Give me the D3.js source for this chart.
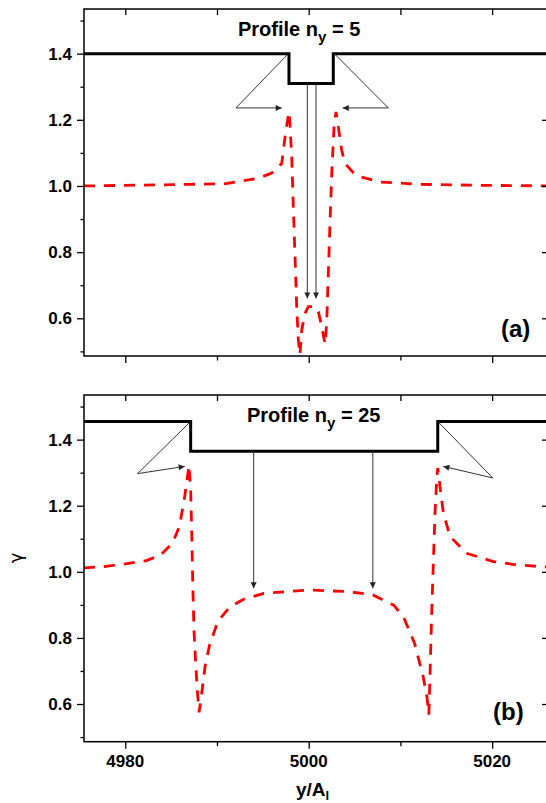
<!DOCTYPE html>
<html>
<head>
<meta charset="utf-8">
<script src="https://cdn.jsdelivr.net/npm/d3@7"></script>
<style>
  body { margin: 0; background: #fff; }
  text { font-family: Arial, "Liberation Sans", sans-serif; }
</style>
</head>
<body>
<div id="chart"></div>
<script>
// tick values
var xMajor = [4980, 5000, 5020];
var xMinor = [4990, 5010];
var yMajor = [0.6, 0.8, 1.0, 1.2, 1.4];
var yMinor = [0.5, 0.7, 0.9, 1.1, 1.3, 1.5];

// panel (a): n_y = 5
var profA_x = [4970, 4997.85, 4997.85, 5002.68, 5002.68, 5032];
var profA_y = [1.4, 1.4, 1.31, 1.31, 1.4, 1.4];
var gamA_x = [4975.5, 4980, 4985.3, 4991.0, 4994.45, 4995.97, 4997.06, 4997.23, 4997.52, 4997.84,
  4997.93, 4998.15, 4998.32, 4998.51, 4998.69, 4998.87, 4999.05, 4999.24, 4999.6, 4999.96,
  5000.69, 5001.05, 5001.42, 5001.78, 5001.96, 5002.14, 5002.32, 5002.51, 5002.76, 5002.98,
  5003.23, 5003.6, 5003.96, 5005.0, 5005.6, 5007.78, 5012.1, 5018.7, 5027];
var gamA_y = [1.0, 1.002, 1.004, 1.007, 1.023, 1.039, 1.068, 1.108, 1.168, 1.224,
  1.199, 1.088, 0.937, 0.786, 0.635, 0.534, 0.49, 0.565, 0.615, 0.635,
  0.635, 0.620, 0.575, 0.522, 0.585, 0.736, 0.887, 1.038, 1.178, 1.224,
  1.178, 1.108, 1.068, 1.036, 1.028, 1.012, 1.005, 1.002, 1.0];

// panel (b): n_y = 25
var profB_x = [4970, 4987.13, 4987.13, 5014.07, 5014.07, 5032];
var profB_y = [1.455, 1.455, 1.365, 1.365, 1.455, 1.455];
var gamB_x = [4975.5, 4977.73, 4980.0, 4982.29, 4983.82, 4985.15, 4985.9, 4986.48, 4986.95, 4987.13,
  4987.24, 4987.35, 4987.49, 4987.68, 4987.85, 4988.05, 4988.33, 4988.69, 4989.2, 4990.1,
  4991.4, 4992.9, 4995.1, 5000, 5004.33, 5007.0, 5009.27, 5010.33, 5011.55, 5012.5,
  5012.9, 5013.1, 5013.23, 5013.41, 5013.59, 5013.77, 5013.96, 5014.07, 5014.32, 5014.68,
  5015.41, 5017.23, 5020.13, 5022.68, 5025.2, 5027];
var gamB_y = [1.012, 1.016, 1.024, 1.034, 1.05, 1.087, 1.137, 1.228, 1.322, 1.248,
  1.127, 0.975, 0.823, 0.722, 0.641, 0.575, 0.631, 0.712, 0.78, 0.85,
  0.894, 0.917, 0.935, 0.945, 0.940, 0.930, 0.899, 0.864, 0.783, 0.68,
  0.62, 0.568, 0.692, 0.874, 1.026, 1.178, 1.279, 1.314, 1.258, 1.178,
  1.107, 1.056, 1.031, 1.021, 1.016, 1.014];

// annotation lines, [x1, y1, x2, y2, arrow?]
var annA = [
  [4997.78, 1.4, 4992.07, 1.236, 0], [4992.07, 1.236, 4997.06, 1.236, 1],
  [5002.79, 1.4, 5008.68, 1.236, 0], [5008.68, 1.236, 5003.71, 1.236, 1],
  [4999.85, 1.31, 4999.85, 0.66, 1], [5000.8, 1.31, 5000.8, 0.66, 1]
];
var annB = [
  [4987.13, 1.455, 4981.34, 1.297, 0], [4981.34, 1.297, 4986.48, 1.319, 1],
  [5014.07, 1.455, 5020.07, 1.284, 0], [5020.07, 1.284, 5014.68, 1.319, 1],
  [4994.0, 1.365, 4994.0, 0.95, 1], [5006.99, 1.365, 5006.99, 0.95, 1]
];

var W = 546, H = 803;
var svg = d3.select("#chart").append("svg")
    .attr("width", W)
    .attr("height", H);

svg.append("defs").append("marker")
    .attr("id", "arr")
    .attr("markerUnits", "userSpaceOnUse")
    .attr("viewBox", "0 0 10 10")
    .attr("refX", 10).attr("refY", 5)
    .attr("markerWidth", 7).attr("markerHeight", 6)
    .attr("orient", "auto")
  .append("path")
    .attr("d", "M0,0L10,5L0,10z")
    .attr("fill", "#222");

var x = d3.scaleLinear().domain([4975.5, 5026.2]).range([84, 549]);

function panel(top, bottom, profX, profY, gamX, gamY, ann, id) {
  var y = d3.scaleLinear().domain([0.486, 1.535]).range([bottom, top]);
  var g = svg.append("g");

  g.append("clipPath").attr("id", "clip" + id)
    .append("rect").attr("x", 84).attr("y", top).attr("width", 549 - 84).attr("height", bottom - top);

  var line = d3.line().x(function(d) { return x(d[0]); }).y(function(d) { return y(d[1]); });

  var plot = g.append("g").attr("clip-path", "url(#clip" + id + ")");

  plot.append("path")
      .datum(gamX.map(function(v, i) { return [v, gamY[i]]; }))
      .attr("d", line)
      .attr("fill", "none")
      .attr("stroke", "#ff0000")
      .attr("stroke-width", 2.8)
      .attr("stroke-dasharray", "11,9");

  plot.append("path")
      .datum(profX.map(function(v, i) { return [v, profY[i]]; }))
      .attr("d", line)
      .attr("fill", "none")
      .attr("stroke", "#000")
      .attr("stroke-width", 3);

  plot.selectAll(".ann")
      .data(ann)
    .enter().append("line")
      .attr("x1", function(d) { return x(d[0]); })
      .attr("y1", function(d) { return y(d[1]); })
      .attr("x2", function(d) { return x(d[2]); })
      .attr("y2", function(d) { return y(d[3]); })
      .attr("stroke", "#333")
      .attr("stroke-width", 1)
      .attr("marker-end", function(d) { return d[4] ? "url(#arr)" : null; });

  // axes
  g.append("g").attr("transform", "translate(0," + bottom + ")")
      .call(d3.axisBottom(x).tickValues(xMajor).tickSize(7).tickFormat(""));
  g.append("g").attr("transform", "translate(0," + bottom + ")")
      .call(d3.axisBottom(x).tickValues(xMinor).tickSize(4.5).tickFormat(""));
  g.append("g").attr("transform", "translate(0," + top + ")")
      .call(d3.axisBottom(x).tickValues(xMajor.concat(xMinor)).tickSize(6).tickFormat(""));
  g.append("g").attr("transform", "translate(84,0)")
      .call(d3.axisLeft(y).tickValues(yMajor).tickSize(7).tickPadding(5).tickFormat(d3.format(".1f")));
  g.append("g").attr("transform", "translate(84,0)")
      .call(d3.axisLeft(y).tickValues(yMinor).tickSize(3.5).tickFormat(""));
  g.append("g").attr("transform", "translate(549,0)")
      .call(d3.axisLeft(y).tickValues(yMajor).tickSize(7).tickFormat(""));

  g.selectAll(".domain").remove();
  g.selectAll(".tick line").attr("stroke", "#000").attr("stroke-width", 1.3);
  g.selectAll(".tick text")
      .attr("fill", "#000")
      .style("font-size", "17px")
      .style("font-weight", "bold");

  g.append("rect")
      .attr("x", 84).attr("y", top)
      .attr("width", 549 - 84).attr("height", bottom - top)
      .attr("fill", "none")
      .attr("stroke", "#000")
      .attr("stroke-width", 1.5);

  return g;
}

var ga = panel(9, 356, profA_x, profA_y, gamA_x, gamA_y, annA, "a");
var gb = panel(395, 741.7, profB_x, profB_y, gamB_x, gamB_y, annB, "b");

// x tick labels (bottom panel only)
gb.selectAll(".xl")
    .data(xMajor)
  .enter().append("text")
    .attr("x", function(d) { return x(d); })
    .attr("y", 767)
    .attr("text-anchor", "middle")
    .style("font-size", "17px")
    .style("font-weight", "bold")
    .text(function(d) { return d; });

function profLabel(g, px, py, num) {
  var t = g.append("text")
      .attr("x", px).attr("y", py)
      .style("font-size", "20px")
      .style("font-weight", "bold");
  t.append("tspan").text("Profile n");
  t.append("tspan").attr("dy", 6).style("font-size", "15px").text("y");
  t.append("tspan").attr("dy", -6).text(" = " + num);
}
profLabel(ga, 238, 36, 5);
profLabel(gb, 247, 421.5, 25);

ga.append("text").attr("x", 501).attr("y", 337)
    .style("font-size", "24px").style("font-weight", "bold").text("(a)");
gb.append("text").attr("x", 493).attr("y", 720)
    .style("font-size", "24px").style("font-weight", "bold").text("(b)");

// axis titles
svg.append("text")
    .attr("transform", "translate(22,558) rotate(-90)")
    .attr("text-anchor", "middle")
    .style("font-family", "'DejaVu Sans', sans-serif")
    .style("font-size", "18px")
    .text("γ");

var xt = svg.append("text")
    .attr("x", 296).attr("y", 796)
    .style("font-size", "19px")
    .style("font-weight", "bold");
xt.append("tspan").text("y/A");
xt.append("tspan").attr("dy", 4).style("font-size", "13px").text("l");
</script>
</body>
</html>
